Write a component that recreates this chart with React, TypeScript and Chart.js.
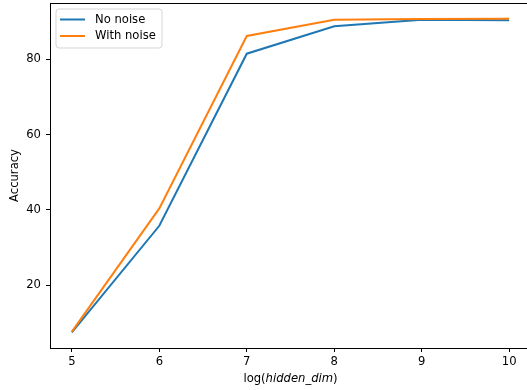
import React, { useEffect, useRef } from "react";
import { Chart, registerables } from "chart.js";

Chart.register(...registerables);

const xValues = [5, 6, 7, 8, 9, 10];
const noNoise = [7.5, 35.8, 81.5, 88.8, 90.5, 90.4];
const withNoise = [7.7, 40.4, 86.2, 90.5, 90.7, 90.8];
const seriesLabels = ["No noise", "With noise"];
const xTicks = [5, 6, 7, 8, 9, 10];
const yTicks = [20, 40, 60, 80];
const xTitleParts = ["log(", "hidden_dim", ")"];
const yTitle = "Accuracy";

const FONT = "'DejaVu Sans', sans-serif";
const FS = 11.6;
const BLUE = "#1f77b4";
const ORANGE = "#ff7f0e";

const overlayPlugin = {
  id: "overlay",
  afterDraw(chart: any) {
    const ctx = chart.ctx;
    const area = chart.chartArea;
    ctx.save();
    // top and right spines
    ctx.strokeStyle = "#000";
    ctx.lineWidth = 1;
    ctx.beginPath();
    ctx.moveTo(area.left, Math.round(area.top) + 0.5);
    ctx.lineTo(area.right, Math.round(area.top) + 0.5);
    ctx.moveTo(Math.round(area.right) + 0.5, area.top);
    ctx.lineTo(Math.round(area.right) + 0.5, area.bottom);
    ctx.stroke();

    // x axis title with italic middle part
    const normal = `${FS}px ${FONT}`;
    const italic = `italic ${FS}px ${FONT}`;
    const fonts = [normal, italic, normal];
    const widths = xTitleParts.map((t, i) => {
      ctx.font = fonts[i];
      return ctx.measureText(t).width;
    });
    const total = widths.reduce((a, b) => a + b, 0);
    let x = (area.left + area.right) / 2 - total / 2;
    ctx.fillStyle = "#000";
    ctx.textBaseline = "middle";
    ctx.textAlign = "left";
    xTitleParts.forEach((t, i) => {
      ctx.font = fonts[i];
      ctx.fillText(t, x, 378.5);
      x += widths[i];
    });

    // legend
    const lx = area.left + 6;
    const ly = area.top + 6;
    const lw = 106;
    const lh = 39;
    const r = 3;
    ctx.beginPath();
    ctx.moveTo(lx + r, ly);
    ctx.lineTo(lx + lw - r, ly);
    ctx.arcTo(lx + lw, ly, lx + lw, ly + r, r);
    ctx.lineTo(lx + lw, ly + lh - r);
    ctx.arcTo(lx + lw, ly + lh, lx + lw - r, ly + lh, r);
    ctx.lineTo(lx + r, ly + lh);
    ctx.arcTo(lx, ly + lh, lx, ly + lh - r, r);
    ctx.lineTo(lx, ly + r);
    ctx.arcTo(lx, ly, lx + r, ly, r);
    ctx.closePath();
    ctx.fillStyle = "rgba(255,255,255,0.8)";
    ctx.fill();
    ctx.strokeStyle = "rgba(204,204,204,0.8)";
    ctx.lineWidth = 1;
    ctx.stroke();
    const colors = [BLUE, ORANGE];
    chart.data.datasets.forEach((ds: any, i: number) => {
      const cy = ly + 10.5 + i * 16.5;
      ctx.strokeStyle = colors[i];
      ctx.lineWidth = 2;
      ctx.beginPath();
      ctx.moveTo(lx + 4, cy);
      ctx.lineTo(lx + 29, cy);
      ctx.stroke();
      ctx.fillStyle = "#000";
      ctx.font = normal;
      ctx.textBaseline = "middle";
      ctx.fillText(ds.label, lx + 39, cy);
    });
    ctx.restore();
  },
};

export default function App() {
  const ref = useRef<HTMLCanvasElement>(null);
  useEffect(() => {
    if (!ref.current) return;
    const chart = new Chart(ref.current, {
      type: "line",
      data: {
        datasets: [
          {
            label: seriesLabels[0],
            data: xValues.map((x, i) => ({ x, y: noNoise[i] })),
            borderColor: BLUE,
            backgroundColor: BLUE,
            borderWidth: 2,
            pointRadius: 0,
            tension: 0,
            order: 1,
          },
          {
            label: seriesLabels[1],
            data: xValues.map((x, i) => ({ x, y: withNoise[i] })),
            borderColor: ORANGE,
            backgroundColor: ORANGE,
            borderWidth: 2,
            pointRadius: 0,
            tension: 0,
            order: 0,
          },
        ],
      },
      options: {
        responsive: false,
        animation: false,
        devicePixelRatio: 1,
        layout: { padding: { left: 0, top: 3, right: 9, bottom: 0 } },
        plugins: { legend: { display: false }, tooltip: { enabled: false } },
        scales: {
          x: {
            type: "linear",
            min: 4.75,
            max: 10.25,
            afterBuildTicks: (s: any) => {
              s.ticks = xTicks.map((v) => ({ value: v }));
            },
            afterFit: (s: any) => {
              s.height = 42;
              s.paddingLeft = 0;
              s.paddingRight = 0;
            },
            grid: {
              display: true,
              drawOnChartArea: false,
              drawTicks: true,
              tickLength: 4,
              color: "#000",
              lineWidth: 1,
            },
            border: { display: true, color: "#000", width: 1 },
            ticks: {
              color: "#000",
              font: { family: FONT, size: FS },
              padding: 3,
              maxRotation: 0,
              autoSkip: false,
              callback: (v: any) => String(v),
            },
          },
          y: {
            type: "linear",
            min: 3.34,
            max: 94.96,
            afterBuildTicks: (s: any) => {
              s.ticks = yTicks.map((v) => ({ value: v }));
            },
            afterFit: (s: any) => {
              s.width = 50;
              s.paddingTop = 0;
              s.paddingBottom = 0;
            },
            grid: {
              display: true,
              drawOnChartArea: false,
              drawTicks: true,
              tickLength: 4,
              color: "#000",
              lineWidth: 1,
            },
            border: { display: true, color: "#000", width: 1 },
            ticks: {
              color: "#000",
              font: { family: FONT, size: FS },
              padding: 5,
              autoSkip: false,
              callback: (v: any) => String(v),
            },
            title: {
              display: true,
              text: yTitle,
              color: "#000",
              font: { family: FONT, size: FS },
              padding: { top: 8.5, bottom: 0 },
            },
          },
        },
      },
      plugins: [overlayPlugin],
    });
    return () => chart.destroy();
  }, []);
  return (
    <div
      style={{
        position: "absolute",
        left: 0,
        top: 0,
        width: 527,
        height: 390,
        overflow: "hidden",
        background: "#fff",
      }}
    >
      <canvas ref={ref} width={540} height={390} style={{ width: 540, height: 390 }} />
    </div>
  );
}
